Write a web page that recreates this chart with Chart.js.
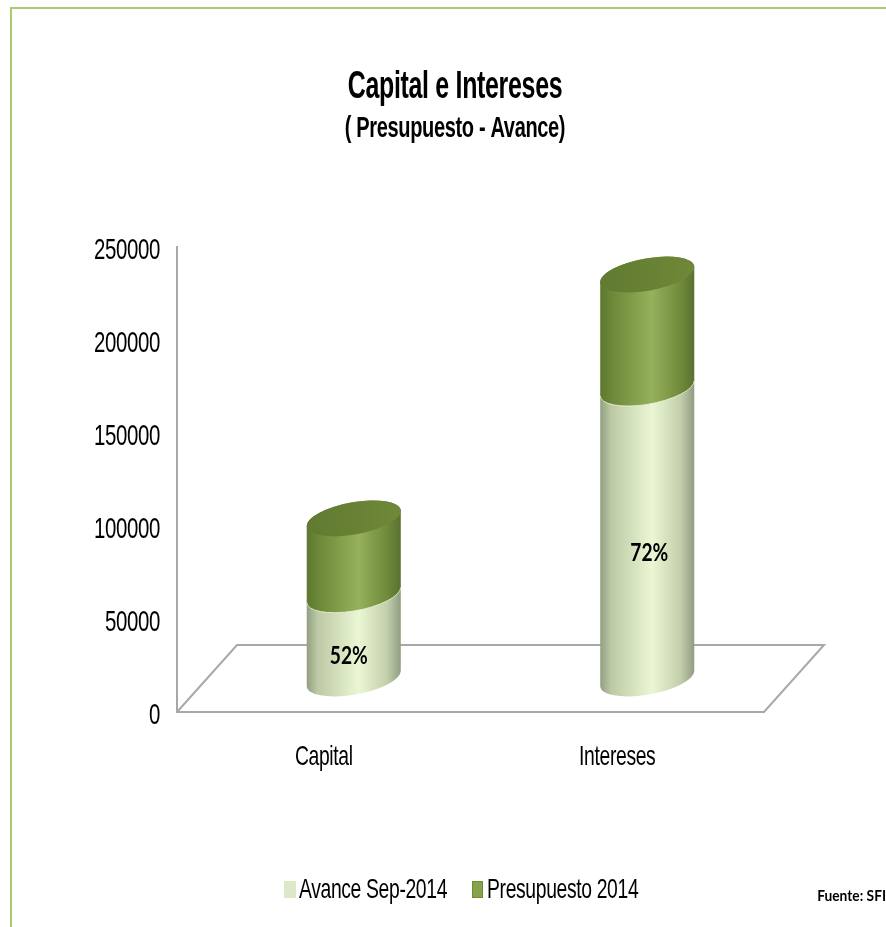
<!DOCTYPE html>
<html>
<head>
<meta charset="utf-8">
<title>Capital e Intereses</title>
<style>
  html, body { margin: 0; padding: 0; background: #fff; overflow: hidden; }
  #wrap { position: relative; width: 886px; height: 927px; }
  #frame { position: absolute; left: 10px; top: 7px; right: 0; bottom: 0;
           border-left: 2px solid #a9cb68; border-top: 2px solid #a9cb68; }
  canvas { position: absolute; left: 0; top: 0; }
</style>
<script src="https://cdn.jsdelivr.net/npm/chart.js@4/dist/chart.umd.min.js"></script>
</head>
<body>
<div id="wrap">
  <div id="frame"></div>
  <canvas id="chart" width="886" height="927"></canvas>
</div>
<script>
const categories = ["Capital", "Intereses"];
const avance = [45000, 156000];
const presupuesto = [41000, 61000];
const percentLabels = ["52%", "72%"];
const yTicks = [0, 50000, 100000, 150000, 200000, 250000];

const sans = "'Liberation Sans', sans-serif";

// floor depth of the fake 3D box, bars stand halfway into it
const floorDepthX = 60;
const floorDepthY = -67;
const barShiftX = floorDepthX / 2;
const barShiftY = floorDepthY / 2;

// tilted ellipse used for the cylinder ends
const tilt = -10.25 * Math.PI / 180;
const rx = 47.7;
const ry = 16.1;
const labelNudgeX = [-5, 2];
const labelNudgeY = 20;
const legendBoxX = [284, 472];
const legendBoxW = [12, 11];

const lightStops = [[0, "#8f9c80"], [0.12, "#bcc9a4"], [0.55, "#ebf7d4"], [0.85, "#c3cfab"], [1, "#8d9a7e"]];
const greenStops = [[0, "#5d772f"], [0.15, "#6f8b3a"], [0.55, "#95b15b"], [0.85, "#6f8a3b"], [1, "#587030"]];
const capStops = [[0, "#607a30"], [1, "#6f8839"]];

// the type is a condensed sans, squeeze the text horizontally per font size
const squashBySize = { 39: 0.64, 30: 0.68, 29: 0.69, 28: 0.69, 24: 0.8, 16: 0.86 };
const canvas = document.getElementById("chart");
const c2d = canvas.getContext("2d");
const rawFill = c2d.fillText.bind(c2d);
const rawMeasure = c2d.measureText.bind(c2d);

function squash() {
  const size = parseInt(c2d.font.match(/(\d+)(\.\d+)?px/)[1], 10);
  return squashBySize[size] || 0.7;
}

c2d.fillText = function (text, x, y) {
  const s = squash();
  c2d.save();
  c2d.translate(x, y);
  c2d.scale(s, 1);
  rawFill(text, 0, 0);
  c2d.restore();
};
c2d.measureText = function (text) {
  return { width: rawMeasure(text).width * squash() };
};

function sideGradient(ctx, cx, stops) {
  const g = ctx.createLinearGradient(cx - rx, 0, cx + rx, 0);
  stops.forEach(s => g.addColorStop(s[0], s[1]));
  return g;
}

// parameter on the ellipse where its outline is furthest left/right
const tRight = Math.atan2(-ry * Math.sin(tilt), rx * Math.cos(tilt));

function cylinderSide(ctx, cx, yBottom, yTop, stops) {
  ctx.beginPath();
  ctx.ellipse(cx, yBottom, rx, ry, tilt, tRight, tRight + Math.PI);
  ctx.ellipse(cx, yTop, rx, ry, tilt, tRight + Math.PI, tRight + 2 * Math.PI);
  ctx.closePath();
  ctx.fillStyle = sideGradient(ctx, cx, stops);
  ctx.fill();
}

const cylinderPlugin = {
  id: "cylinders",
  beforeDraw(chart) {
    chart.ctx.letterSpacing = "-0.5px";
  },
  beforeDatasetsDraw(chart) {
    const ctx = chart.ctx;
    const area = chart.chartArea;

    ctx.save();
    ctx.strokeStyle = "#a8a8a8";
    ctx.lineWidth = 2;
    ctx.beginPath();
    ctx.moveTo(area.left, area.bottom);
    ctx.lineTo(area.left + floorDepthX, area.bottom + floorDepthY);
    ctx.lineTo(area.right + floorDepthX, area.bottom + floorDepthY);
    ctx.lineTo(area.right, area.bottom);
    ctx.lineTo(area.left, area.bottom);
    ctx.stroke();

    const lower = chart.getDatasetMeta(0).data;
    const upper = chart.getDatasetMeta(1).data;
    lower.forEach((bar, i) => {
      const cx = bar.x + barShiftX;
      const yBase = bar.base + barShiftY;
      const yMid = bar.y + barShiftY;
      const yTop = upper[i].y + barShiftY;

      cylinderSide(ctx, cx, yBase, yMid, lightStops);
      cylinderSide(ctx, cx, yMid, yTop, greenStops);

      // pale seam under the green part
      ctx.beginPath();
      ctx.ellipse(cx, yMid, rx, ry, tilt, tRight, tRight + Math.PI);
      ctx.strokeStyle = "rgba(238,245,220,0.8)";
      ctx.lineWidth = 1;
      ctx.stroke();

      ctx.beginPath();
      ctx.ellipse(cx, yTop, rx, ry, tilt, 0, Math.PI * 2);
      ctx.fillStyle = sideGradient(ctx, cx, capStops);
      ctx.fill();

      ctx.letterSpacing = "0px";
      ctx.fillStyle = "#000";
      ctx.font = "bold 24px Lato, sans-serif";
      ctx.textAlign = "center";
      ctx.textBaseline = "middle";
      ctx.fillText(percentLabels[i], cx + labelNudgeX[i], (yBase + yMid) / 2 + labelNudgeY);
      ctx.letterSpacing = "-0.5px";
    });
    ctx.restore();
    return false; // cylinders replace the flat bars
  },
  afterDraw(chart) {
    const ctx = chart.ctx;
    ctx.save();

    // legend row, colours and names come from the datasets
    ctx.font = "28px " + sans;
    ctx.textAlign = "left";
    ctx.textBaseline = "alphabetic";
    chart.data.datasets.forEach((ds, i) => {
      const x = legendBoxX[i];
      ctx.fillStyle = ds.backgroundColor;
      ctx.fillRect(x, 881, legendBoxW[i], 17);
      ctx.strokeStyle = ds.borderColor;
      ctx.lineWidth = 1;
      ctx.strokeRect(x + 0.5, 881.5, legendBoxW[i] - 1, 16);
      ctx.fillStyle = "#000";
      ctx.fillText(ds.label, x + 15, 898);
    });

    ctx.letterSpacing = "0px";
    ctx.font = "bold 16px Lato, sans-serif";
    ctx.textAlign = "right";
    ctx.textBaseline = "middle";
    ctx.fillText("Fuente: SFI", 886, 896);
    ctx.restore();
  }
};

new Chart(canvas, {
  type: "bar",
  data: {
    labels: categories,
    datasets: [
      { label: "Avance Sep-2014", data: avance, backgroundColor: "#dde8c8", borderColor: "#dde8c8", borderWidth: 1 },
      { label: "Presupuesto 2014", data: presupuesto, backgroundColor: "#86a34a", borderColor: "#6f8b3a", borderWidth: 1 }
    ]
  },
  plugins: [cylinderPlugin],
  options: {
    responsive: false,
    animation: false,
    devicePixelRatio: 1,
    layout: { padding: { left: 24, right: 0, top: 0, bottom: 0 } },
    scales: {
      x: {
        stacked: true,
        grid: { display: false, drawTicks: false },
        border: { display: false },
        ticks: { color: "#000", padding: 28, maxRotation: 0, font: { family: sans, size: 28 } },
        afterFit(scale) { scale.height = 215; }
      },
      y: {
        stacked: true,
        min: 0,
        max: 250000,
        grid: { display: false, drawTicks: false },
        border: { color: "#a8a8a8", width: 2 },
        ticks: { color: "#000", padding: 17, labelOffset: 4, font: { family: sans, size: 30 }, callback: v => String(v) },
        afterBuildTicks(scale) { scale.ticks = yTicks.map(v => ({ value: v })); },
        afterFit(scale) { scale.width = 153; }
      },
      // empty axis, keeps room right of the floor
      yRight: {
        position: "right",
        grid: { display: false },
        border: { display: false },
        ticks: { display: false },
        afterFit(scale) { scale.width = 122; }
      }
    },
    plugins: {
      title: {
        display: true,
        text: "Capital e Intereses",
        color: "#000",
        font: { family: sans, size: 39, weight: "bold" },
        padding: { top: 64, bottom: 1 }
      },
      subtitle: {
        display: true,
        text: "( Presupuesto - Avance)",
        color: "#000",
        font: { family: sans, size: 29, weight: "bold" },
        padding: { top: 0, bottom: 100 }
      },
      legend: { display: false },
      tooltip: { enabled: false }
    }
  }
});
</script>
</body>
</html>
